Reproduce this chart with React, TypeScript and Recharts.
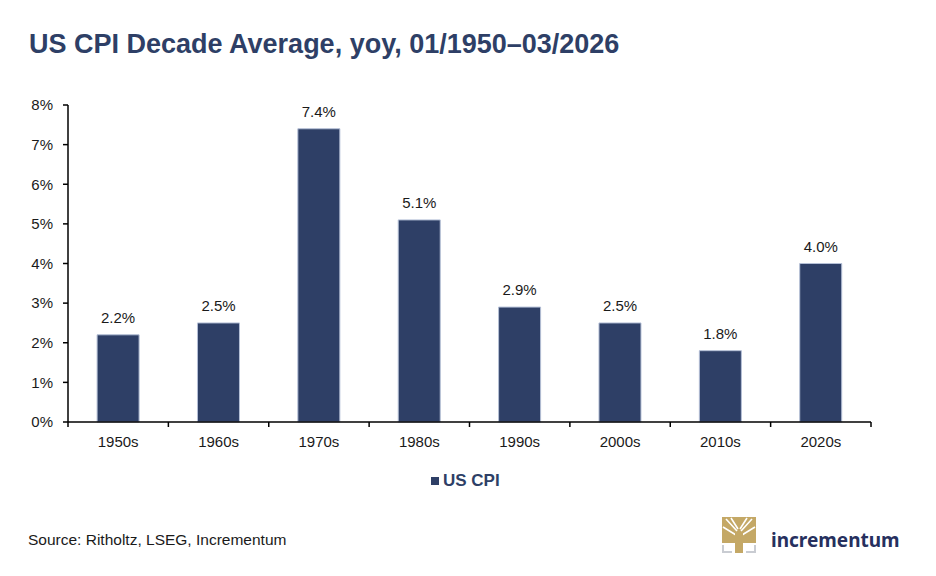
import React from 'react';
import { BarChart, Bar, XAxis, YAxis, LabelList } from 'recharts';

const decades = ['1950s', '1960s', '1970s', '1980s', '1990s', '2000s', '2010s', '2020s'];
const cpiAvg = [2.2, 2.5, 7.4, 5.1, 2.9, 2.5, 1.8, 4.0];
const yTicks = [0, 1, 2, 3, 4, 5, 6, 7, 8];

const data = decades.map((d, i) => ({ decade: d, cpi: cpiAvg[i] }));

const W = 936;
const H = 576;
const X_H = 30;
// bottom margin excludes the x-axis height, which recharts adds on its own
const M = { top: 105, right: 65, bottom: 154 - X_H, left: 0 };
const Y_W = 68;
const BAND = (W - Y_W - M.right) / decades.length;

const NAVY = '#2e3f66';
const FONT = '"Liberation Sans", Arial, sans-serif';

function DecadeTick(props: any) {
  const { x, y, payload, index } = props;
  const left = x - BAND / 2;
  return (
    <g>
      <line x1={left} y1={y - 5} x2={left} y2={y} stroke="#000" strokeWidth={1.5} />
      {index === decades.length - 1 && (
        <line x1={x + BAND / 2} y1={y - 5} x2={x + BAND / 2} y2={y} stroke="#000" strokeWidth={1.5} />
      )}
      <text x={x} y={y} dy={20} textAnchor="middle" fontSize={15} fill="#1a1a1a" fontFamily={FONT}>
        {payload.value}
      </text>
    </g>
  );
}

function Logo() {
  return (
    <svg width={40} height={40} style={{ position: 'absolute', left: 720, top: 515 }}>
      <rect x={2} y={2} width={34} height={26} fill="#c4a866" />
      <path d="M6 4 L17 16 M32 4 L21 16 M11 3 L18 14 M27 3 L20 14 M3 12 L16 20 M35 12 L22 20" stroke="#fff" strokeWidth={1.6} />
      <rect x={15} y={18} width={8} height={20} fill="#c4a866" />
      <path d="M3 30 L3 37 L12 37 M35 30 L35 37 L26 37" stroke="#c9ccd2" strokeWidth={2} fill="none" />
    </svg>
  );
}

export default function App() {
  return (
    <div style={{ position: 'absolute', left: 0, top: 0, width: W, height: H, background: '#fff', fontFamily: FONT }}>
      <div style={{ position: 'absolute', left: 29, top: 29, fontSize: 27, fontWeight: 700, color: NAVY, whiteSpace: 'nowrap' }}>
        US CPI Decade Average, yoy, 01/1950–03/2026
      </div>
      <BarChart width={W} height={H} data={data} margin={M} barCategoryGap="29%">
        <XAxis
          dataKey="decade"
          height={X_H}
          tick={<DecadeTick />}
          tickLine={false}
          tickSize={5}
          tickMargin={0}
          axisLine={{ stroke: '#000', strokeWidth: 1.5 }}
          interval={0}
        />
        <YAxis
          width={Y_W}
          domain={[0, 8]}
          ticks={yTicks}
          tickFormatter={(v: number) => `${v}%`}
          tick={{ fontSize: 15, fill: '#1a1a1a', fontFamily: FONT }}
          tickLine={{ stroke: '#000', strokeWidth: 1.5 }}
          tickSize={5}
          tickMargin={10}
          axisLine={{ stroke: '#000', strokeWidth: 1.5 }}
        />
        <Bar dataKey="cpi" fill={NAVY} stroke="#b4bfd6" strokeWidth={1} isAnimationActive={false}>
          <LabelList
            dataKey="cpi"
            position="top"
            offset={12}
            formatter={(v: number) => `${v.toFixed(1)}%`}
            style={{ fontSize: 15, fill: '#1a1a1a', fontFamily: FONT }}
          />
        </Bar>
      </BarChart>
      <div style={{ position: 'absolute', left: 431, top: 471, display: 'flex', alignItems: 'center', gap: 4 }}>
        <span style={{ width: 8, height: 8, background: NAVY, display: 'inline-block' }} />
        <span style={{ fontSize: 17, fontWeight: 700, color: NAVY, lineHeight: '20px' }}>US CPI</span>
      </div>
      <div style={{ position: 'absolute', left: 28, top: 531, fontSize: 15.5, color: '#1a1a1a' }}>
        Source: Ritholtz, LSEG, Incrementum
      </div>
      <Logo />
      <div style={{ position: 'absolute', left: 771, top: 527, fontSize: 19, fontWeight: 700, color: '#26305e', fontFamily: '"Noto Sans", sans-serif' }}>
        incrementum
      </div>
    </div>
  );
}
